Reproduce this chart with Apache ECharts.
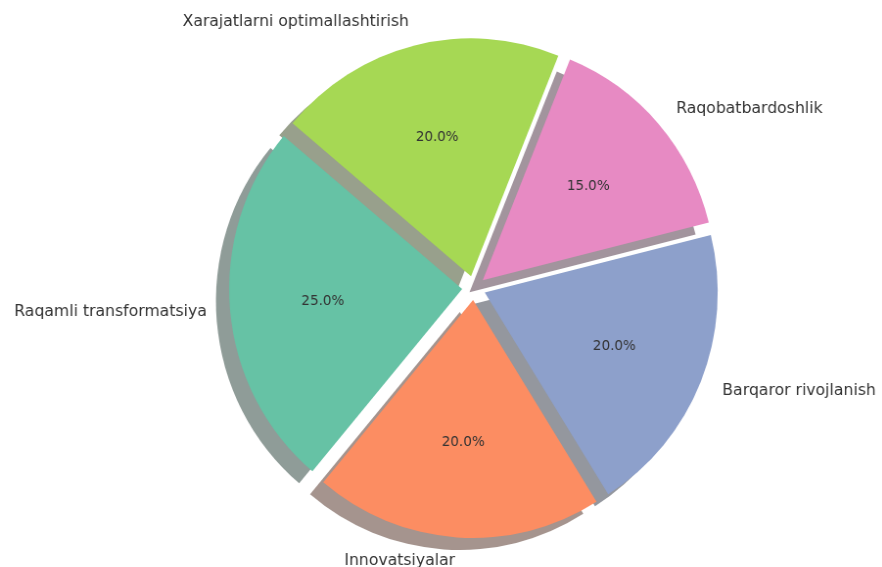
<!DOCTYPE html>
<html>
<head>
<meta charset="utf-8">
<script src="https://cdn.jsdelivr.net/npm/echarts@6/dist/echarts.min.js"></script>
<style>
  html, body { margin: 0; padding: 0; background: #fff; overflow: hidden; }
  /* the source figure is a little narrower than tall: squeeze x by ~2% */
  #chart { width: 901px; height: 567px; transform: scaleX(0.979); transform-origin: 0 0; }
</style>
</head>
<body>
<div id="chart"></div>
<script>
// === DATA ===
const categories = ['Raqamli transformatsiya', 'Innovatsiyalar', 'Barqaror rivojlanish', 'Raqobatbardoshlik', 'Xarajatlarni optimallashtirish'];
const shares = [25, 20, 20, 15, 20];
const sliceColors = ['#66c2a5', '#fc8d62', '#8da0cb', '#e78ac3', '#a6d854'];

// === LAYOUT (unscaled chart px) ===
const CX = 484, CY = 288, R = 238;
const EXPLODE = 12;          // explode offset of every slice
const SHADOW_DX = -13.5, SHADOW_DY = 12;

// matplotlib style shadow: 0.3 * face colour at alpha 0.5
function shadeOf(hex) {
    const n = parseInt(hex.slice(1), 16);
    const r = Math.round(((n >> 16) & 255) * 0.3);
    const g = Math.round(((n >> 8) & 255) * 0.3);
    const b = Math.round((n & 255) * 0.3);
    return `rgba(${r},${g},${b},0.5)`;
}

function buildData(colorFn) {
    return categories.map((name, i) => ({
        name: name,
        value: shares[i],
        selected: true,
        itemStyle: { color: colorFn(sliceColors[i]) }
    }));
}

const basePie = {
    type: 'pie',
    startAngle: 140,
    clockwise: false,
    selectedMode: 'multiple',
    selectedOffset: EXPLODE,
    avoidLabelOverlap: false,
    animation: false,
    emphasis: { disabled: true },
    labelLine: { show: false }
};

const chart = echarts.init(document.getElementById('chart'));
chart.setOption({
    backgroundColor: '#ffffff',
    animation: false,
    series: [
        // shadows
        Object.assign({}, basePie, {
            z: 1,
            silent: true,
            center: [CX + SHADOW_DX, CY + SHADOW_DY],
            radius: [0, R],
            label: { show: false },
            data: buildData(shadeOf)
        }),
        // wedges + outer category labels
        Object.assign({}, basePie, {
            z: 2,
            center: [CX, CY],
            radius: [0, R],
            label: {
                show: true,
                position: 'outside',
                formatter: '{b}',
                fontFamily: 'DejaVu Sans',
                fontSize: 16,
                color: '#333',
                distanceToLabelLine: 0
            },
            labelLine: { show: false, length: R * 0.1, length2: 0 },
            data: buildData(c => c)
        }),
        // percentage labels at 0.6 R
        Object.assign({}, basePie, {
            z: 3,
            silent: true,
            center: [CX, CY],
            radius: [0, R * 1.2 - 6],
            label: {
                show: true,
                position: 'inside',
                formatter: p => p.percent.toFixed(1) + '%',
                fontFamily: 'DejaVu Sans',
                fontSize: 13.8,
                color: '#333'
            },
            data: buildData(() => 'rgba(0,0,0,0)')
        })
    ]
});
</script>
</body>
</html>
